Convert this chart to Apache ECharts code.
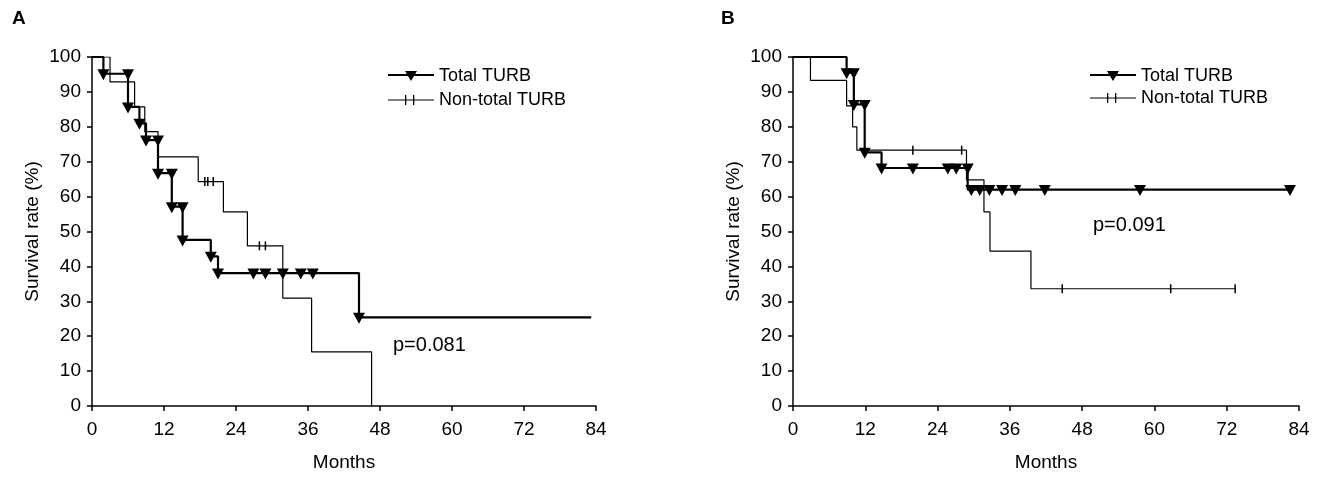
<!DOCTYPE html>
<html>
<head>
<meta charset="utf-8">
<script src="https://cdn.jsdelivr.net/npm/echarts@6/dist/echarts.min.js"></script>
<style>
  html, body { margin: 0; padding: 0; background: #fff; }
  #main { width: 1323px; height: 477px; }
</style>
</head>
<body>
<div id="main"></div>
<script>
// panel A - step points (months, survival %)
var timesATotal = [0, 1.9, 6.0, 7.9, 9.0, 11.0, 13.3, 15.1, 19.8, 21.0, 44.5, 83.2];
var survATotal  = [100, 95.2, 85.7, 81.0, 76.2, 66.7, 57.1, 47.6, 42.9, 38.1, 25.4, 25.4];
var marksATotal = [[1.9,95.2],[6.0,95.2],[6.0,85.7],[7.9,81.0],[9.0,76.2],[11.0,76.2],[11.0,66.7],
  [13.3,66.7],[13.3,57.1],[15.1,57.1],[15.1,47.6],[19.8,42.9],[21.0,38.1],[26.9,38.1],[28.9,38.1],
  [31.8,38.1],[34.8,38.1],[36.8,38.1],[44.5,25.4]];
var timesANon = [0, 3.0, 7.1, 8.8, 11.0, 17.7, 21.9, 25.9, 31.8, 36.6, 46.6];
var survANon  = [100, 92.9, 85.7, 78.6, 71.4, 64.3, 55.6, 45.9, 30.9, 15.5, 0];
var censorANon = [[18.8,64.3],[19.3,64.3],[20.2,64.3],[27.9,45.9],[28.9,45.9]];

// panel B
var timesBTotal = [0, 8.9, 10.1, 11.9, 14.7, 29.0, 82.5];
var survBTotal  = [100, 95.5, 86.4, 72.7, 68.2, 62.0, 62.0];
var marksBTotal = [[8.9,95.5],[10.1,95.5],[10.1,86.4],[11.9,86.4],[11.9,72.7],[14.7,68.2],[19.9,68.2],
  [25.7,68.2],[27.1,68.2],[29.0,68.2],[29.6,62.0],[31.0,62.0],[32.6,62.0],[34.7,62.0],[36.9,62.0],
  [41.8,62.0],[57.6,62.0],[82.5,62.0]];
var timesBNon = [0, 2.9, 8.9, 9.9, 10.6, 28.8, 31.7, 32.7, 39.5, 73.4];
var survBNon  = [100, 93.3, 86.0, 80.0, 73.3, 64.8, 55.6, 44.4, 33.6, 33.6];
var censorBNon = [[19.9,73.3],[28.0,73.3],[44.7,33.6],[62.7,33.6],[73.4,33.6]];

var pValues = ['p=0.081', 'p=0.091'];

var FONT = "'Liberation Sans', Arial, sans-serif";
var INK = '#000';

function pairs(t, s) {
  return t.map(function (v, i) { return [v, s[i]]; });
}

var chart = echarts.init(document.getElementById('main'), null, { renderer: 'canvas' });

function xAxisOf(idx) {
  return {
    gridIndex: idx,
    type: 'value',
    min: 0, max: 84, interval: 12,
    name: 'Months',
    nameLocation: 'middle',
    nameGap: 47,
    nameTextStyle: { color: INK, fontSize: 19, fontFamily: FONT },
    axisLine: { lineStyle: { color: INK, width: 1.5 } },
    axisTick: { show: true, length: 5, lineStyle: { color: INK, width: 1.5 } },
    axisLabel: { color: INK, fontSize: 19, fontFamily: FONT, margin: 14 },
    splitLine: { show: false }
  };
}
function yAxisOf(idx) {
  return {
    gridIndex: idx,
    type: 'value',
    min: 0, max: 100, interval: 10,
    name: 'Survival rate (%)',
    nameLocation: 'middle',
    nameGap: 50,
    nameTextStyle: { color: INK, fontSize: 19, fontFamily: FONT },
    axisLine: { show: true, lineStyle: { color: INK, width: 1.5 } },
    axisTick: { show: true, length: 5, lineStyle: { color: INK, width: 1.5 } },
    axisLabel: { color: INK, fontSize: 19, fontFamily: FONT, margin: 11 },
    splitLine: { show: false }
  };
}

function stepLine(name, idx, data, width) {
  return {
    name: name, type: 'line', step: 'end',
    xAxisIndex: idx, yAxisIndex: idx,
    data: data, showSymbol: false, symbol: 'none',
    lineStyle: { color: INK, width: width },
    itemStyle: { color: INK }
  };
}
function triangles(name, idx, data) {
  return {
    name: name, type: 'scatter',
    xAxisIndex: idx, yAxisIndex: idx,
    data: data, symbol: 'triangle', symbolRotate: 180,
    symbolSize: [12, 11], symbolOffset: [0, 1],
    itemStyle: { color: INK, opacity: 1 }
  };
}
function censors(name, idx, data) {
  return {
    name: name, type: 'scatter',
    xAxisIndex: idx, yAxisIndex: idx,
    data: data, symbol: 'rect', symbolSize: [1.5, 9],
    itemStyle: { color: INK, opacity: 1 }
  };
}

var totalIcon = 'path://M0,3h46v2h-46z M17,0h12l-6,10z';
var nonIcon = 'path://M0,4.5h46v1h-46z M17,0h1.3v10h-1.3z M25,0h1.3v10h-1.3z';

function legendOf(left, top, gap) {
  return {
    left: left, top: top, orient: 'vertical',
    itemWidth: 46, itemHeight: 10, itemGap: gap,
    selectedMode: false,
    textStyle: { color: INK, fontSize: 18, fontFamily: FONT },
    data: [
      { name: 'Total TURB', icon: totalIcon, itemStyle: { opacity: 1 } },
      { name: 'Non-total TURB', icon: nonIcon, itemStyle: { opacity: 1 } }
    ]
  };
}

var option = {
  animation: false,
  backgroundColor: '#fff',
  title: [
    { text: 'A', left: 7, top: 4, textStyle: { fontSize: 19, fontWeight: 'bold', color: INK, fontFamily: FONT } },
    { text: 'B', left: 716, top: 4, textStyle: { fontSize: 19, fontWeight: 'bold', color: INK, fontFamily: FONT } }
  ],
  legend: [legendOf(383, 62, 6), legendOf(1085, 62, 4)],
  grid: [
    { left: 92, top: 57, width: 504, height: 352 },
    { left: 793, top: 57, width: 506, height: 352 }
  ],
  xAxis: [xAxisOf(0), xAxisOf(1)],
  yAxis: [yAxisOf(0), yAxisOf(1)],
  graphic: [
    { type: 'text', left: 393, top: 335, style: { text: pValues[0], fill: INK, font: '20px ' + FONT } },
    { type: 'text', left: 1093, top: 215, style: { text: pValues[1], fill: INK, font: '20px ' + FONT } }
  ],
  series: [
    stepLine('Non-total TURB', 0, pairs(timesANon, survANon), 1.2),
    censors('Non-total TURB', 0, censorANon),
    stepLine('Total TURB', 0, pairs(timesATotal, survATotal), 2.2),
    triangles('Total TURB', 0, marksATotal),
    stepLine('Non-total TURB', 1, pairs(timesBNon, survBNon), 1.2),
    censors('Non-total TURB', 1, censorBNon),
    stepLine('Total TURB', 1, pairs(timesBTotal, survBTotal), 2.2),
    triangles('Total TURB', 1, marksBTotal)
  ]
};
chart.setOption(option);
</script>
</body>
</html>
